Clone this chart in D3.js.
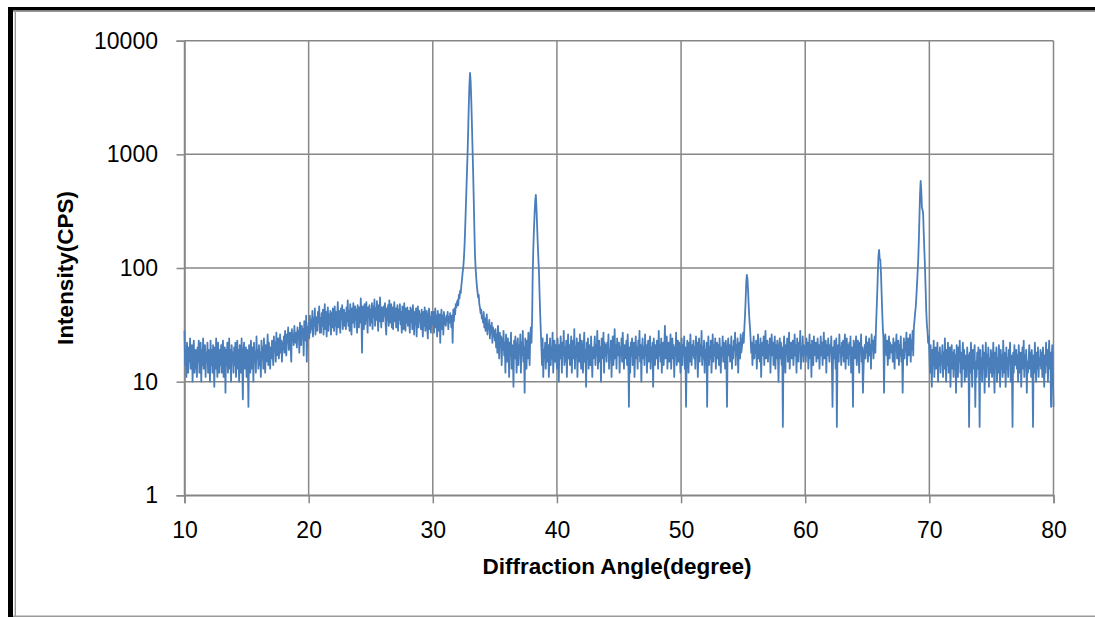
<!DOCTYPE html>
<html>
<head>
<meta charset="utf-8">
<script src="https://cdn.jsdelivr.net/npm/d3@7"></script>
<style>
  html, body { margin: 0; padding: 0; background: #fff; }
  svg { display: block; }
  text { font-family: "Liberation Sans", Arial, sans-serif; fill: #000; }
</style>
</head>
<body>
<svg id="chart" width="1095" height="617"></svg>
<script>
// XRD scan, 0.05 deg step; one row of 20 readings (CPS) per degree
const STEP = 0.05;

const scan10 = [
  [28,14,19,11,22,16,12,20,15,24,13,17,21,10,18,23,12,16,19,14],
  [11,20,15,23,12,17,22,10,19,14,24,13,16,21,11,18,15,22,12,19],
  [17,10,23,14,19,12,21,16,9,20,13,24,15,11,22,17,12,19,14,21],
  [12,18,23,11,16,20,8,19,14,22,12,17,24,13,19,10,21,15,18,12],
  [20,14,22,11,17,23,13,19,10,21,16,12,24,15,7,18,22,13,17,20],
  [11,19,14,6,21,16,12,23,17,13,20,10,22,15,18,12,25,16,19,13],
  [21,14,18,11,23,16,20,13,24,17,12,21,15,19,26,14,22,17,13,20],
  [16,23,18,14,25,19,22,15,27,17,21,24,16,20,26,18,23,15,22,19],
  [25,18,28,21,17,26,22,30,19,24,27,20,15,29,23,26,21,31,24,22],
  [27,20,30,24,28,18,33,26,21,31,25,29,17,34,27,23,38,15,30,28]
];

const scan20 = [
  [33,24,38,27,35,29,42,25,36,31,44,26,37,30,28,41,33,46,27,36],
  [27,40,31,43,26,36,48,29,41,25,35,45,28,39,32,42,26,40,30,44],
  [36,28,46,31,41,26,38,50,30,42,33,27,44,36,47,29,37,43,31,40],
  [29,45,34,52,31,42,28,48,37,26,44,33,49,38,30,46,35,43,27,47],
  [40,30,45,33,54,38,18,46,41,29,48,32,43,50,36,27,45,37,47,31],
  [43,33,49,29,46,37,53,31,44,35,51,38,28,47,34,55,40,30,45,36],
  [34,46,38,49,32,26,44,35,47,31,52,33,42,48,30,45,29,41,50,34],
  [44,30,40,47,28,43,35,48,32,41,27,46,37,29,49,36,28,44,33,45],
  [31,42,35,27,45,33,43,29,47,36,26,41,32,44,25,38,46,30,42,34],
  [39,29,43,33,25,41,31,45,28,38,42,30,24,39,44,29,37,27,41,32]
];

const scan30 = [
  [33,41,27,37,44,30,38,25,42,33,28,39,22,36,43,29,38,26,41,32],
  [36,31,38,34,41,29,37,33,40,35,30,38,22,43,34,44,39,48,45,50],
  [52,47,58,54,63,60,70,78,90,100,118,150,210,310,460,680,1000,1600,2700,4100],
  [5200,4400,3000,1900,1150,700,400,220,130,100,82,70,62,55,58,48,45,40,43,36],
  [38,33,41,30,36,28,34,39,26,32,29,35,24,31,27,33,22,30,25,28],
  [23,29,20,26,18,31,22,16,27,21,25,14,24,19,28,17,22,12,26,20],
  [15,24,19,11,22,17,27,13,21,18,9,23,16,25,20,12,19,24,14,21],
  [18,26,12,22,17,28,15,20,8,24,19,13,23,16,27,21,14,25,30,22],
  [35,90,150,220,300,390,440,340,240,170,125,95,60,40,28,20,14,24,11,19],
  [17,22,13,19,26,15,21,11,18,24,14,20,16,27,12,19,23,15,21,17]
];

const scan40 = [
  [13,24,18,10,21,16,25,19,12,22,17,28,14,20,15,23,11,19,26,16],
  [21,14,19,25,12,18,23,16,29,13,20,17,24,11,19,22,15,26,18,13],
  [23,17,12,20,27,15,19,9,22,16,24,13,18,21,14,25,17,11,20,16],
  [19,25,14,21,17,28,13,18,23,15,20,10,24,16,19,27,12,22,17,21],
  [15,22,18,26,13,19,16,23,11,20,25,14,18,29,16,21,13,24,17,19],
  [22,12,20,17,24,15,27,18,13,21,16,19,23,14,26,17,6,20,12,22],
  [17,24,14,19,22,11,18,25,16,20,13,23,17,28,15,21,10,19,24,16],
  [20,14,26,17,21,12,19,23,15,18,25,13,20,16,22,9,24,18,14,21],
  [16,23,19,13,28,17,21,15,24,12,19,22,14,20,31,16,18,25,13,20],
  [22,15,19,26,13,18,24,16,21,11,20,17,27,14,19,23,15,22,18,12]
];

const scan50 = [
  [19,24,14,21,17,25,13,20,6,16,23,18,12,22,15,26,19,14,21,17],
  [23,16,20,13,25,18,22,11,19,24,15,21,17,28,14,20,16,23,12,19],
  [17,22,6,19,25,14,20,16,23,12,18,26,15,21,17,24,13,19,22,16],
  [21,14,24,18,12,20,17,25,15,22,19,13,23,16,6,20,24,17,21,15],
  [18,25,13,20,16,23,19,27,14,21,17,24,12,19,22,16,26,18,20,23],
  [27,22,30,38,52,75,87,80,62,46,36,30,24,18,22,14,20,25,16,21],
  [18,23,13,20,26,16,21,15,24,11,19,22,17,25,14,20,28,16,19,23],
  [15,21,18,24,12,20,26,17,22,14,19,25,13,21,16,23,18,10,20,24],
  [16,22,14,20,4,19,25,17,12,21,18,24,15,20,27,13,19,22,16,21],
  [23,14,19,26,17,21,12,24,18,15,22,19,28,13,20,17,25,15,21,18]
];

const scan60 = [
  [20,15,24,17,22,13,19,26,16,21,11,23,18,14,25,17,20,22,15,19],
  [24,16,21,13,19,25,17,22,14,20,27,16,18,23,12,21,17,24,19,15],
  [21,18,25,14,6,20,16,23,19,13,24,4,17,21,15,26,18,20,14,22],
  [17,23,15,20,26,13,19,24,16,21,14,22,18,25,12,20,17,6,23,19],
  [16,21,25,14,19,23,17,12,22,18,26,15,20,8,13,19,21,16,25,18],
  [22,15,20,24,17,21,13,26,19,23,16,22,25,18,30,42,60,90,128,144],
  [120,118,92,62,42,30,24,8,22,26,21,17,23,14,19,25,16,22,18,20],
  [21,15,24,18,13,22,19,26,16,20,23,14,21,17,25,15,19,8,18,24],
  [16,22,19,27,14,20,24,17,21,26,15,23,19,28,17,30,34,40,45,55],
  [70,90,117,170,280,450,585,480,340,325,300,200,140,100,65,42,32,28,22,25]
];

const scan70 = [
  [18,12,21,15,9,19,14,23,11,17,20,13,16,22,10,18,14,20,12,17],
  [15,21,11,18,13,24,16,10,19,14,22,12,17,20,9,16,21,13,18,11],
  [19,13,17,8,21,14,11,20,15,23,12,18,9,16,22,13,19,10,17,14],
  [11,20,14,17,4,18,12,22,15,9,19,13,16,21,6,15,11,18,13,20],
  [14,4,19,12,16,10,21,13,18,8,15,22,11,17,14,20,9,16,12,19],
  [17,11,15,22,13,8,18,14,20,10,16,12,21,15,9,19,13,17,11,23],
  [12,18,14,9,20,13,16,11,19,15,22,10,17,13,4,18,12,21,14,16],
  [19,13,17,10,21,15,12,18,9,16,20,13,23,11,17,14,19,8,15,12],
  [16,21,13,18,11,19,14,4,17,12,22,15,10,18,13,20,11,16,14,19],
  [13,18,11,20,15,9,17,12,22,14,19,10,16,23,13,18,6,15,21,12],
  [6]
];

const xTicks = [10, 20, 30, 40, 50, 60, 70, 80];
const yTicks = [1, 10, 100, 1000, 10000];

const blocks = [[10, scan10], [20, scan20], [30, scan30], [40, scan40],
                [50, scan50], [60, scan60], [70, scan70]];
const points = [];
blocks.forEach(([start, rows]) => {
  rows.forEach((row, d) => {
    row.forEach((v, j) => points.push({ angle: start + d + j * STEP, cps: v }));
  });
});

const W = 1095, H = 617;
const plot = { left: 184.5, right: 1053.5, top: 40.7, bottom: 495.3 };
const GRID = '#878787';

const svg = d3.select('#chart');

// page frame (thick black left/top, thin grey inner lines)
svg.append('rect').attr('x', 8).attr('y', 7).attr('width', 5).attr('height', H - 7).attr('fill', '#000');
svg.append('rect').attr('x', 8).attr('y', 7).attr('width', W - 8).attr('height', 3.6).attr('fill', '#000');
svg.append('line').attr('x1', 15.3).attr('x2', 15.3).attr('y1', 10.6).attr('y2', H)
  .attr('stroke', '#9a9a9a').attr('stroke-width', 1.4);
svg.append('line').attr('x1', 13).attr('x2', W).attr('y1', 11.3).attr('y2', 11.3)
  .attr('stroke', '#9a9a9a').attr('stroke-width', 1.4);
svg.append('line').attr('x1', 13).attr('x2', W).attr('y1', 616.3).attr('y2', 616.3)
  .attr('stroke', '#9a9a9a').attr('stroke-width', 1.4);

const x = d3.scaleLinear().domain([10, 80]).range([plot.left, plot.right]);
const y = d3.scaleLog().domain([1, 10000]).range([plot.bottom, plot.top]);

// gridlines
svg.append('g').selectAll('line.h').data(yTicks).enter().append('line')
  .attr('x1', plot.left).attr('x2', plot.right)
  .attr('y1', d => y(d)).attr('y2', d => y(d))
  .attr('stroke', GRID).attr('stroke-width', 1.5);
svg.append('g').selectAll('line.v').data(xTicks).enter().append('line')
  .attr('x1', d => x(d)).attr('x2', d => x(d))
  .attr('y1', plot.top).attr('y2', plot.bottom)
  .attr('stroke', GRID).attr('stroke-width', 1.5);

// axes
const yAxis = svg.append('g')
  .attr('transform', `translate(${plot.left},0)`)
  .call(d3.axisLeft(y).tickValues(yTicks).tickFormat(d3.format('d')).tickSize(8).tickPadding(18.5));
const xAxis = svg.append('g')
  .attr('transform', `translate(0,${plot.bottom})`)
  .call(d3.axisBottom(x).tickValues(xTicks).tickFormat(d3.format('d')).tickSize(8).tickPadding(18.7));

[yAxis, xAxis].forEach(a => {
  a.attr('font-size', null).attr('font-family', null);
  a.select('.domain').attr('stroke', GRID).attr('stroke-width', 1.5);
  a.selectAll('.tick line').attr('stroke', GRID).attr('stroke-width', 1.5);
  a.selectAll('.tick text').style('font-size', '23px').attr('fill', '#000');
});

// scan trace
const line = d3.line().x(d => x(d.angle)).y(d => y(d.cps));
svg.append('path')
  .datum(points)
  .attr('d', line)
  .attr('fill', 'none')
  .attr('stroke', '#4a7ebb')
  .attr('stroke-width', 1.8)
  .attr('stroke-linejoin', 'round');

// axis titles
svg.append('text')
  .attr('x', 617).attr('y', 573.5)
  .attr('text-anchor', 'middle')
  .style('font-size', '22.5px').style('font-weight', 'bold')
  .text('Diffraction Angle(degree)');

svg.append('text')
  .attr('transform', 'translate(73.3,268) rotate(-90)')
  .attr('text-anchor', 'middle')
  .style('font-size', '22.5px').style('font-weight', 'bold')
  .text('Intensity(CPS)');
</script>
</body>
</html>
